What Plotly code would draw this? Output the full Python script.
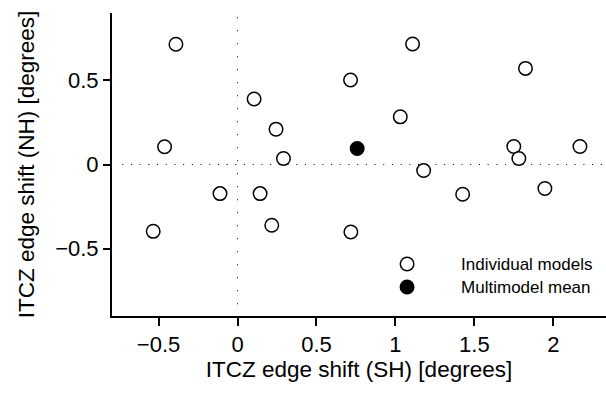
import plotly.graph_objects as go

# Individual models: ITCZ edge shift SH (x) and NH (y), degrees
sh_models = [-0.39, 0.105, 0.244, -0.462, 0.291, -0.111, 0.143,
             1.109, 0.716, 1.824, 1.031, 1.750, 1.782, 2.169, 1.179, 1.426, 1.947,
             -0.534, 0.217, 0.718]
nh_models = [0.714, 0.389, 0.210, 0.105, 0.036, -0.173, -0.173,
             0.716, 0.502, 0.571, 0.283, 0.107, 0.036, 0.107, -0.036, -0.177, -0.143,
             -0.397, -0.361, -0.401]
# Multimodel mean
sh_mean = [0.758]
nh_mean = [0.095]

x_ticks = [-0.5, 0, 0.5, 1, 1.5, 2]
y_ticks = [-0.5, 0, 0.5]

FONT = "Liberation Sans, Arial, sans-serif"

fig = go.Figure()
fig.add_trace(go.Scatter(
    x=sh_models, y=nh_models, mode="markers",
    name='<span style="font-size:17px">Individual models</span>',
    marker=dict(size=13.5, color="white", line=dict(color="black", width=1.5)),
))
fig.add_trace(go.Scatter(
    x=sh_mean, y=nh_mean, mode="markers",
    name='<span style="font-size:17px">Multimodel mean</span>',
    marker=dict(size=13.5, color="black", line=dict(color="black", width=1.5)),
))

# dotted zero lines
fig.add_shape(type="line", x0=0, x1=0, y0=-0.83, y1=0.88, xref="x", yref="y",
              line=dict(color="black", width=1, dash="1px,12px"), layer="below")
fig.add_shape(type="line", x0=-0.73, x1=2.334, y0=0, y1=0, xref="x", yref="y",
              line=dict(color="black", width=1, dash="1px,7.7px"), layer="below")

fig.update_layout(
    width=606, height=393,
    margin=dict(l=112, r=0, t=13, b=77),
    paper_bgcolor="white", plot_bgcolor="white",
    font=dict(family=FONT, size=22, color="black"),
    showlegend=True,
    legend=dict(
        x=0.488, y=0.226, xanchor="left", yanchor="top",
        font=dict(size=15.4, family=FONT, color="black"),
        itemwidth=98, bgcolor="rgba(0,0,0,0)", tracegroupgap=0,
    ),
)
fig.update_xaxes(
    range=[-0.795, 2.334], tickvals=x_ticks, ticks="outside", ticklen=8, tickwidth=2,
    tickcolor="black", showline=True, linecolor="black", linewidth=2,
    showgrid=False, zeroline=False, mirror=False,
    title=dict(text="ITCZ edge shift (SH) [degrees]", standoff=4,
               font=dict(size=22.5, family=FONT)),
    tickfont=dict(size=22),
)
fig.update_yaxes(
    range=[-0.9, 0.9], tickvals=y_ticks, ticks="outside", ticklen=7, tickwidth=2,
    tickcolor="black", showline=True, linecolor="black", linewidth=2,
    showgrid=False, zeroline=False, mirror=False,
    title=dict(text="ITCZ edge shift (NH) [degrees]", standoff=14,
               font=dict(size=22.5, family=FONT)),
    tickfont=dict(size=22),
)

fig.write_html("out.html")
